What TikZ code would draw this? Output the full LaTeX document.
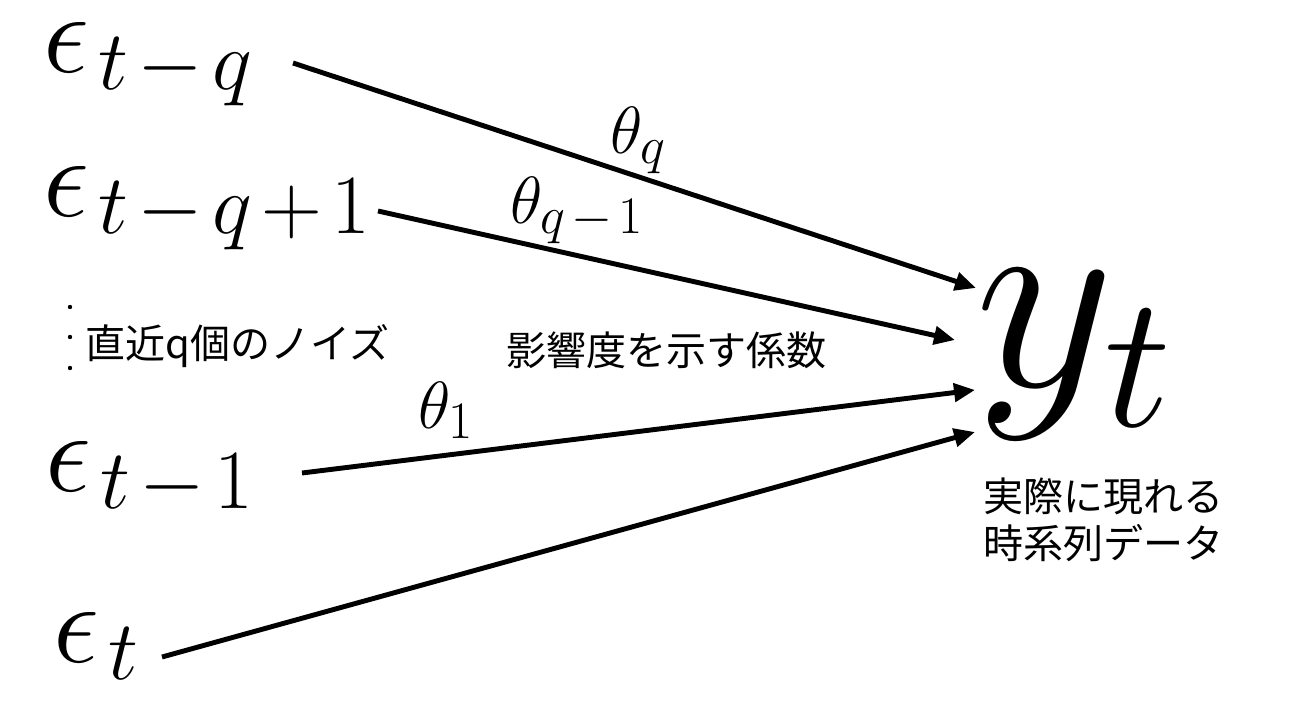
\RequirePackage{fix-cm}
\documentclass[tikz,border=0pt]{standalone}
\usepackage{fontspec}
\newfontfamily\jpfont{Noto Sans CJK JP}
\usetikzlibrary{arrows.meta}
\DeclareMathSizes{66}{66}{48}{36}
\DeclareMathSizes{38}{38}{30}{20}
\newcommand{\opsp}{\mskip2mu}

\tikzset{
  noise/.style={anchor=base west,inner sep=0pt,font=\fontsize{66}{70}\selectfont},
  coef/.style={anchor=base west,inner sep=0pt,font=\fontsize{38}{42}\selectfont},
  target/.style={anchor=base west,inner sep=0pt,font=\fontsize{154}{160}\selectfont},
  jptext/.style={inner sep=0pt,font=\jpfont\fontsize{22.8}{27.3}\selectfont},
  arr/.style={->,line width=2.8pt}
}

\begin{document}
\begin{tikzpicture}[line cap=butt,line join=miter,>={Triangle[length=0.42cm,width=0.36cm]},x=0.02cm,y=-0.02cm]
        \useasboundingbox (0,0) rectangle (1300,723);
        % noise terms
        \node[noise] (eps_tq) at (43,72) {$\epsilon_{\opsp t\opsp-\opsp q}$};
        \node[noise] (eps_tq1) at (43,216) {$\epsilon_{\opsp t\opsp-\opsp q\opsp+\opsp 1}$};
        \node[noise] (eps_t1) at (45,491) {$\epsilon_{\opsp t\opsp-\opsp 1}$};
        \node[noise] (eps_t) at (53,662) {$\epsilon_{\opsp t}$};
        \foreach \yy in {307,337,368}
          \fill (70,\yy) circle (2.2);
        \node[jptext,anchor=base west] (noise_txt) at (85,358) {直近q個のノイズ};
        % observed series
        \node[target] (y_t) at (975,386) {$y_t$};
        \node[jptext,anchor=north west,align=left] (y_txt) at (983,477) {実際に現れる\\時系列データ};
        % connectors
        \coordinate (s_q) at (293,63);
        \coordinate (s_q1) at (378,211);
        \coordinate (s_1) at (302,473);
        \coordinate (s_0) at (162,657);
        \coordinate (t_q) at (976,288);
        \coordinate (t_q1) at (955,340);
        \coordinate (t_1) at (975,390);
        \coordinate (t_0) at (975,432);
        \draw[arr] (s_q) -- (t_q);
        \draw[arr] (s_q1) -- (t_q1);
        \draw[arr] (s_1) -- (t_1);
        \draw[arr] (s_0) -- (t_0);
        % coefficients
        \node[coef] (th_q) at (610,153) {$\theta_q$};
        \node[coef] (th_q1) at (510,223) {$\theta_{q\opsp-\opsp 1}$};
        \node[coef] (th_1) at (418,428) {$\theta_1$};
        \node[jptext,anchor=base west] (coef_txt) at (506,365) {影響度を示す係数};
\end{tikzpicture}
\end{document}
